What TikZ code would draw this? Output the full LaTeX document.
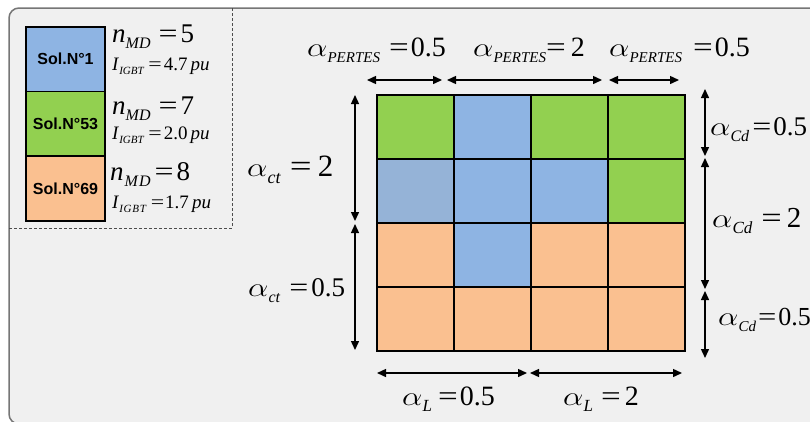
\documentclass[tikz,border=0pt]{standalone}
\usepackage{fontspec}
\setmainfont{Liberation Serif}
\newfontfamily\solfont{Liberation Sans}
\usetikzlibrary{arrows.meta}
\definecolor{cgreen}{HTML}{92D050}
\definecolor{cblue}{HTML}{8EB4E3}
\definecolor{cgblue}{HTML}{95B3D7}
\definecolor{corange}{HTML}{FAC090}
\definecolor{cbg}{HTML}{F0F0F0}
\definecolor{cframe}{HTML}{767676}
\newcommand\alp{\scalebox{1.3}[1.08]{$\alpha$}}
\newcommand\eqs{\scalebox{1.25}[1]{=}}
% #1 main size, #2 sub size, #3 base, #4 subscript, #5 gap before =, #6 gap after =, #7 value
\newcommand\lab[7]{\fontsize{#1}{#1}\selectfont#3\raisebox{-0.24em}{\fontsize{#2}{#2}\selectfont\textit{#4}}\hspace{#5}\eqs\hspace{#6}#7}
\tikzset{
  cell/.style={draw=black, line width=2pt, minimum width=77pt, minimum height=64pt, inner sep=0pt, anchor=north west},
  legbox/.style={draw=black, line width=1.5pt, minimum width=79pt, minimum height=64.5pt, inner sep=0pt, font=\solfont\bfseries\fontsize{16}{16}\selectfont},
  lbl/.style={anchor=base west, inner sep=0pt},
  dim/.style={line width=1.4pt, {Triangle[length=9pt,width=8pt]}-{Triangle[length=9pt,width=8pt]}}
}
\begin{document}
\begin{tikzpicture}[x=1pt,y=-1pt]
\useasboundingbox (0,0) rectangle (810,421);
\clip (0,0) rectangle (810,421);
\fill[white] (0,0) rectangle (810,421);
\draw[cframe, fill=cbg, line width=1.5pt, rounded corners=10pt] (9,8) rectangle (840,424);
% legend frame
\draw[black!70, densely dashed, line width=0.8pt] (9,228) -- (232,228) -- (232,8);
% legend boxes
\node[legbox, fill=cblue] (s1) at (65.5,59) {Sol.N°1};
\node[legbox, fill=cgreen] (s53) at (65.5,123.5) {Sol.N°53};
\node[legbox, fill=corange] (s69) at (65.5,188.5) {Sol.N°69};
% legend texts
\node[lbl] (n1) at (112,42) {\lab{27}{16}{\textit{n}}{MD}{8pt}{3pt}{5}};
\node[lbl] (i1) at (112,70) {\lab{19}{11}{\textit{I}}{IGBT}{4pt}{2pt}{4.7\,\textit{pu}}};
\node[lbl] (n2) at (112,114) {\lab{27}{16}{\textit{n}}{MD}{8pt}{3pt}{7}};
\node[lbl] (i2) at (112,139) {\lab{19}{11}{\textit{I}}{IGBT}{4pt}{2pt}{2.0\,\textit{pu}}};
\node[lbl] (n3) at (110,180) {\lab{27}{16}{\textit{n}}{\hspace{1pt}M\hspace{1pt}D}{4pt}{3pt}{8}};
\node[lbl] (i3) at (112,208) {\lab{19}{11}{\textit{I}}{I\hspace{0.8pt}G\hspace{0.8pt}B\hspace{0.8pt}T}{4pt}{1pt}{1.7\,\textit{pu}}};
% grid
\foreach \r/\cols in {1/{cgreen,cblue,cgreen,cgreen},2/{cgblue,cblue,cblue,cgreen},3/{corange,cblue,corange,corange},4/{corange,corange,corange,corange}}{
  \foreach \col [count=\c] in \cols {
    \node[cell, fill=\col] (c\r\c) at ({376+77*(\c-1)},{94+64*(\r-1)}) {};
  }
}
% top dimension arrows
\coordinate (ta) at (367,80); \coordinate (tb) at (442,80);
\coordinate (tc) at (447,80); \coordinate (td) at (602,80);
\coordinate (te) at (609,80); \coordinate (tf) at (679,80);
\draw[dim] (ta) -- (tb);
\draw[dim] (tc) -- (td);
\draw[dim] (te) -- (tf);
\node[lbl] (p1) at (307,56) {\lab{28}{15}{\alp}{PERTES}{9pt}{2pt}{0.5}};
\node[lbl] (p2) at (473,56) {\lab{28}{15}{\alp}{PERTES}{0pt}{5pt}{2}};
\node[lbl] (p3) at (609,56) {\lab{28}{15}{\alp}{PERTES}{11pt}{2pt}{0.5}};
% left arrows
\coordinate (la) at (355,95); \coordinate (lb) at (355,221);
\coordinate (lc) at (355,224); \coordinate (ld) at (355,350);
\draw[dim] (la) -- (lb);
\draw[dim] (lc) -- (ld);
\node[lbl] (ct1) at (247,176) {\lab{31}{18}{\alp}{ct}{9pt}{6pt}{2}};
\node[lbl] (ct2) at (248,296) {\lab{27}{16}{\alp}{ct}{9pt}{3pt}{0.5}};
% right arrows
\coordinate (ra) at (705,89); \coordinate (rb) at (705,156);
\coordinate (rc) at (705,158); \coordinate (rd) at (705,289);
\coordinate (re) at (705,291); \coordinate (rf) at (705,358);
\draw[dim] (ra) -- (rb);
\draw[dim] (rc) -- (rd);
\draw[dim] (re) -- (rf);
\node[lbl] (cd1) at (710,135) {\lab{27}{16}{\alp}{Cd}{3pt}{2pt}{0.5}};
\node[lbl] (cd2) at (712,227) {\lab{29}{17}{\alp}{Cd}{9pt}{5pt}{2}};
\node[lbl] (cd3) at (718,325) {\lab{26}{15}{\alp}{Cd}{2pt}{2pt}{0.5}};
% bottom arrows
\coordinate (ba) at (377,373); \coordinate (bb) at (527,373);
\coordinate (bc) at (530,373); \coordinate (bd) at (682,373);
\draw[dim] (ba) -- (bb);
\draw[dim] (bc) -- (bd);
\node[lbl] (l1) at (402,405) {\lab{28}{17}{\alp}{L}{6pt}{2pt}{0.5}};
\node[lbl] (l2) at (563,405) {\lab{28}{17}{\alp}{L}{8pt}{4pt}{2}};
\end{tikzpicture}
\end{document}
